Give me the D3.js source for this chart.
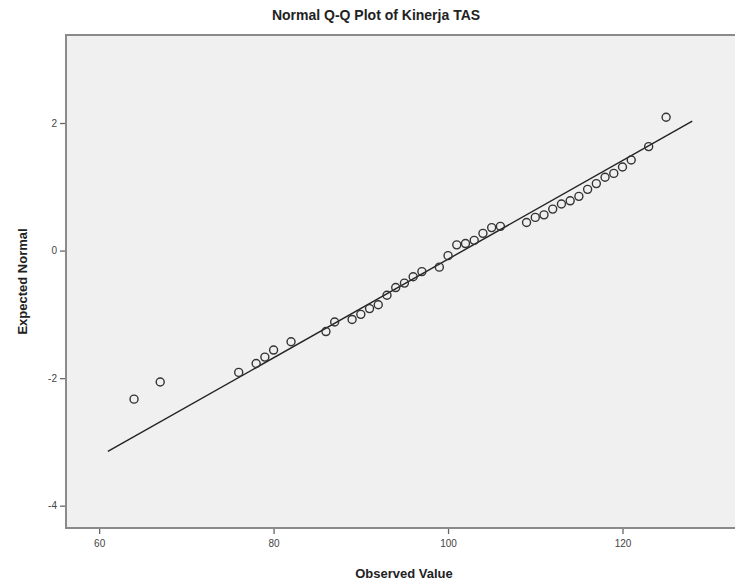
<!DOCTYPE html>
<html>
<head>
<meta charset="utf-8">
<script src="https://cdn.jsdelivr.net/npm/d3@7"></script>
<style>
  body { margin: 0; background: #fff; }
  text { font-family: "Liberation Sans", Arial, sans-serif; }
</style>
</head>
<body>
<svg id="qq" width="735" height="584"></svg>
<script>
// observed values and their expected normal scores
var observed = [64, 67, 76, 78, 79, 80, 82, 86, 87, 89, 90, 91, 92, 93, 94, 95, 96, 97, 99, 100,
    101, 102, 103, 104, 105, 106, 109, 110, 111, 112, 113, 114, 115, 116, 117, 118, 119, 120, 121, 123, 125];
var expected = [-2.33, -2.06, -1.91, -1.77, -1.67, -1.56, -1.43, -1.27, -1.12, -1.08, -1.00, -0.91, -0.85, -0.70, -0.58, -0.51, -0.41, -0.33, -0.26, -0.08,
    0.09, 0.11, 0.16, 0.27, 0.36, 0.38, 0.44, 0.52, 0.56, 0.65, 0.73, 0.78, 0.85, 0.96, 1.05, 1.15, 1.21, 1.31, 1.42, 1.63, 2.09];

// reference line end points
var lineX = [61, 128];
var lineZ = [-3.15, 2.03];

var xTicks = [60, 80, 100, 120];
var yTicks = [-4, -2, 0, 2];

var svg = d3.select("#qq");

var plotLeft = 66, plotTop = 35, plotRight = 742, plotBottom = 528;

var x = d3.scaleLinear()
    .domain([56.2, 133.7])
    .range([plotLeft, plotRight]);

var y = d3.scaleLinear()
    .domain([-4.35, 3.38])
    .range([plotBottom, plotTop]);

// plot area
svg.append("rect")
    .attr("x", plotLeft)
    .attr("y", plotTop)
    .attr("width", plotRight - plotLeft + 10)
    .attr("height", plotBottom - plotTop)
    .attr("fill", "#f0f0f0")
    .attr("stroke", "#8a8a8a")
    .attr("stroke-width", 2);

// axes
var xAxis = svg.append("g")
    .attr("transform", "translate(0," + (plotBottom + 1) + ")")
    .call(d3.axisBottom(x).tickValues(xTicks).tickSize(5).tickSizeOuter(0));
var yAxis = svg.append("g")
    .attr("transform", "translate(" + (plotLeft - 1) + ",0)")
    .call(d3.axisLeft(y).tickValues(yTicks).tickSize(5).tickSizeOuter(0)
        .tickFormat(d => d < 0 ? "-" + Math.abs(d) : d));

[xAxis, yAxis].forEach(g => {
    g.select(".domain").remove();
    g.selectAll(".tick line").attr("stroke", "#666").attr("stroke-width", 1.3);
    g.selectAll(".tick text")
        .attr("fill", "#444")
        .style("font-size", "10px");
});
xAxis.selectAll(".tick text").attr("dy", "0.95em");

// reference line
svg.append("line")
    .attr("x1", x(lineX[0]))
    .attr("y1", y(lineZ[0]))
    .attr("x2", x(lineX[1]))
    .attr("y2", y(lineZ[1]))
    .attr("stroke", "#222")
    .attr("stroke-width", 1.4);

// points
svg.append("g")
    .selectAll("circle")
    .data(observed)
    .join("circle")
    .attr("cx", d => x(d))
    .attr("cy", (d, i) => y(expected[i]))
    .attr("r", 4)
    .attr("fill", "none")
    .attr("stroke", "#333")
    .attr("stroke-width", 1.4);

// titles
svg.append("text")
    .attr("x", 376)
    .attr("y", 20)
    .attr("text-anchor", "middle")
    .style("font-size", "14px")
    .style("font-weight", "bold")
    .attr("fill", "#222")
    .text("Normal Q-Q Plot of Kinerja TAS");

svg.append("text")
    .attr("x", 404)
    .attr("y", 578)
    .attr("text-anchor", "middle")
    .style("font-size", "13px")
    .style("font-weight", "bold")
    .attr("fill", "#222")
    .text("Observed Value");

svg.append("text")
    .attr("transform", "translate(27," + ((plotTop + plotBottom) / 2) + ") rotate(-90)")
    .attr("text-anchor", "middle")
    .style("font-size", "13px")
    .style("font-weight", "bold")
    .attr("fill", "#222")
    .text("Expected Normal");
</script>
</body>
</html>
